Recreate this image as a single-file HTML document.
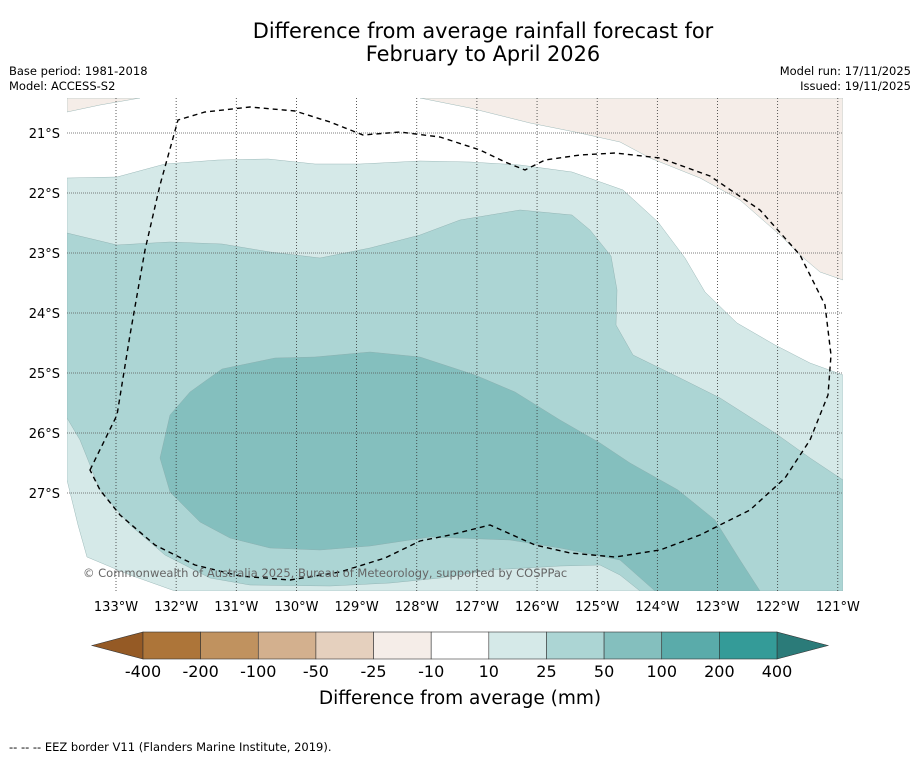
<!DOCTYPE html>
<html><head><meta charset="utf-8"><style>
body{margin:0;background:#fff;font-family:"Liberation Sans","DejaVu Sans",sans-serif;}
svg text{font-family:"DejaVu Sans","Liberation Sans",sans-serif;}
</style></head><body>
<svg id="chart" width="919" height="758" xmlns="http://www.w3.org/2000/svg">
<text x="483" y="38" font-size="20.9" text-anchor="middle">Difference from average rainfall forecast for</text>
<text x="483" y="61" font-size="20.9" text-anchor="middle">February to April 2026</text>
<text x="9" y="75" font-size="11.5">Base period: 1981-2018</text>
<text x="9" y="90" font-size="11.5">Model: ACCESS-S2</text>
<text x="911" y="75" font-size="11.5" text-anchor="end">Model run: 17/11/2025</text>
<text x="911" y="90" font-size="11.5" text-anchor="end">Issued: 19/11/2025</text>
<defs><clipPath id="mapclip"><rect x="67" y="98" width="776" height="493"/></clipPath></defs>
<g id="map" clip-path="url(#mapclip)"></g>
<g id="axes"></g>
<g id="cbar"></g>
<text x="460" y="704" font-size="18.5" text-anchor="middle">Difference from average (mm)</text>
<text x="9" y="751" font-size="11.5">--  --  -- EEZ border V11 (Flanders Marine Institute, 2019).</text>
</svg>
<script>
const lonLabels=["133°W","132°W","131°W","130°W","129°W","128°W","127°W","126°W","125°W","124°W","123°W","122°W","121°W"];
const latLabels=["21°S","22°S","23°S","24°S","25°S","26°S","27°S"];
const cbarLevels=["-400","-200","-100","-50","-25","-10","10","25","50","100","200","400"];
const cbarColors=["#ad7539","#c0925f","#d3b08e","#e5d0be","#f5ede8","#ffffff","#d5e9e8","#acd5d4","#84bfbe","#5aabaa","#349b98"];
const NS="http://www.w3.org/2000/svg";
const xLon=i=>116+i*60.15, yLat=i=>133+i*60;
function mk(t,a,p){const e=document.createElementNS(NS,t);for(const k in a)e.setAttribute(k,a[k]);p.appendChild(e);return e;}
const map=document.getElementById('map'), axes=document.getElementById('axes'), cb=document.getElementById('cbar');
const shapes=[
["beige-region-top","#f5ede8","M420,98 L470,108 530,123 575,132 620,142 650,158 700,178 740,200 780,235 800,255 820,272 843,280 843,98 Z"],
["beige-region-left","#f5ede8","M67,98 L67,112 100,105 140,98 Z"],
["light-teal-region","#d5e9e8","M67,178 L117,177 165,164 218,160 268,159 315,164 360,164 420,161 470,162 520,165 572,172 623,190 658,222 685,258 705,292 737,323 775,345 810,363 843,375 843,591 175,591 130,575 87,557 78,525 67,480 Z"],
["mid-teal-region","#acd5d4","M67,233 L117,245 170,242 222,244 270,252 320,258 370,248 420,235 460,220 520,210 572,215 590,230 611,256 617,290 616,325 633,355 680,378 720,398 775,433 810,458 843,480 843,591 640,591 620,575 600,565 560,566 490,570 440,578 390,583 330,586 250,585 210,578 165,555 130,525 100,490 80,440 67,418 Z"],
["dark-teal-region","#84bfbe","M160,458 L170,415 190,392 222,369 275,358 315,357 370,352 420,357 475,375 515,392 560,420 600,443 630,463 678,490 715,520 740,560 760,591 655,591 620,560 560,548 510,540 430,537 370,546 320,550 270,548 230,538 200,522 170,492 Z"]];
shapes.forEach(s=>{const e=mk('path',{d:s[2],fill:s[1],stroke:'#8aa',"stroke-width":0.4},map);

});
lonLabels.forEach((l,i)=>{const x=xLon(i);
const g=mk('line',{x1:x,y1:98,x2:x,y2:591,stroke:'#333',"stroke-width":0.8,"stroke-dasharray":"1,2"},map);


const t=mk('text',{x:x,y:611,"font-size":13,"text-anchor":"middle"},axes);t.textContent=l;

});
latLabels.forEach((l,i)=>{const y=yLat(i);
const g=mk('line',{x1:67,y1:y,x2:843,y2:y,stroke:'#555',"stroke-width":0.8,"stroke-dasharray":"1,1"},map);


const t=mk('text',{x:60,y:y+5,"font-size":13,"text-anchor":"end"},axes);t.textContent=l;

});
const eez=mk('path',{d:"M90,470 L117,415 130,335 145,250 160,185 178,120 205,112 250,107 295,111 330,122 363,135 400,132 440,137 480,150 505,162 525,170 545,160 580,155 615,153 660,158 710,176 760,210 800,255 825,305 831,355 828,395 810,440 785,478 750,510 700,535 660,550 615,557 570,553 535,545 490,525 450,535 420,541 385,558 340,572 290,580 240,576 195,565 155,545 120,515 100,490 Z",fill:'none',stroke:'#000',"stroke-width":1.4,"stroke-dasharray":"5,4"},map);


const cr=mk('text',{x:83,y:577,"font-size":11.5,fill:'#666'},map);cr.textContent="© Commonwealth of Australia 2025, Bureau of Meteorology, supported by COSPPac";


const bx0=143,bw=(777-143)/cbarColors.length,y0=632,y1=659;
const la=mk('polygon',{points:`92,645.5 ${bx0},${y0} ${bx0},${y1}`,fill:'#955a25',stroke:'#333',"stroke-width":0.6},cb);


const ra=mk('polygon',{points:`828,645.5 777,${y0} 777,${y1}`,fill:'#2b7b79',stroke:'#333',"stroke-width":0.6},cb);


cbarColors.forEach((c,i)=>{const r=mk('rect',{x:bx0+i*bw,y:y0,width:bw,height:y1-y0,fill:c,stroke:'#333',"stroke-width":0.6},cb);

});
cbarLevels.forEach((l,i)=>{const t=mk('text',{x:bx0+i*bw,y:677,"font-size":16,"text-anchor":"middle"},cb);t.textContent=l;

});
</script>
</body></html>
